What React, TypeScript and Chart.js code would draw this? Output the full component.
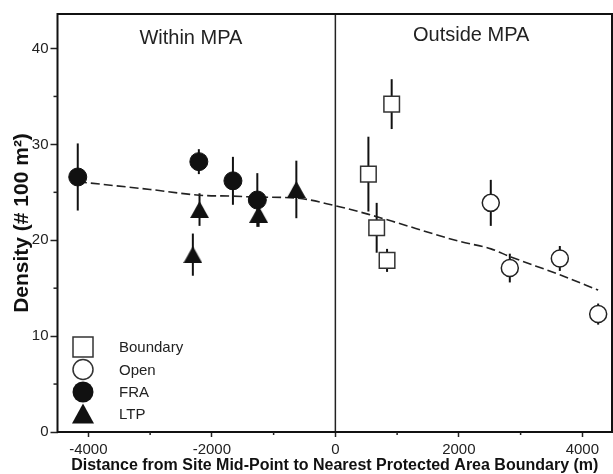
import { useEffect, useRef } from 'react';
import { Chart, registerables } from 'chart.js';

Chart.register(...registerables);

const FONT = '"Liberation Sans", Arial, sans-serif';

const xTicks = [-4000, -2000, 0, 2000, 4000];
const yTicks = [0, 10, 20, 30, 40];
const xMinorTicks = [-3000, -1000, 1000, 3000];
const yMinorTicks = [5, 15, 25, 35];

const boundaryX = [912, 535, 669, 837];
const boundaryY = [34.2, 26.9, 21.3, 17.9];
const boundaryErr = [2.6, 3.9, 2.6, 1.2];

const openX = [2517, 2825, 3635, 4256];
const openY = [23.9, 17.1, 18.1, 12.3];
const openErr = [2.4, 1.5, 1.3, 1.1];

const fraX = [-4172, -2211, -1659, -1264];
const fraY = [26.6, 28.2, 26.2, 24.2];
const fraErr = [3.5, 1.3, 2.5, 2.8];

const ltpX = [-2200, -2308, -1243, -632];
const ltpY = [23.2, 18.5, 22.7, 25.3];
const ltpErr = [1.7, 2.2, 1.3, 3.0];

const trendX = [-4170, -3000, -2200, -1660, -1250, -630, 0, 540, 910, 2000, 2520, 2825, 3635, 4256];
const trendY = [26.1, 25.3, 24.7, 24.6, 24.5, 24.4, 23.6, 22.7, 22.0, 19.9, 19.1, 18.3, 16.4, 14.8];

const legendLabels = ['Boundary', 'Open', 'FRA', 'LTP'];
const regionLabels = ['Within MPA', 'Outside MPA'];

const X_MIN = -4500;
const X_MAX = 4480;
const Y_MIN = 0;
const Y_MAX = 43.6;

const pts = (xs: number[], ys: number[]) => xs.map((x, i) => ({ x, y: ys[i] }));

function makeTriangle(w: number, h: number, color: string) {
  const c = document.createElement('canvas');
  c.width = w;
  c.height = h;
  const ctx = c.getContext('2d')!;
  ctx.fillStyle = color;
  ctx.beginPath();
  ctx.moveTo(w / 2, 0);
  ctx.lineTo(w, h);
  ctx.lineTo(0, h);
  ctx.closePath();
  ctx.fill();
  return c;
}

export default function App() {
  const ref = useRef<HTMLCanvasElement>(null);

  useEffect(() => {
    const canvas = ref.current!;
    const tri = makeTriangle(19, 17, '#111');
    const errs: Record<string, number[]> = {
      Boundary: boundaryErr,
      Open: openErr,
      FRA: fraErr,
      LTP: ltpErr,
    };

    const decor = {
      id: 'decor',
      beforeDatasetsDraw(chart: any) {
        const { ctx, scales } = chart;
        const xs = scales.x;
        const ys = scales.y;
        ctx.save();
        ctx.strokeStyle = '#111';
        ctx.lineWidth = 2;
        chart.data.datasets.forEach((ds: any) => {
          const e = errs[ds.label];
          if (!e) return;
          ds.data.forEach((p: any, i: number) => {
            const px = xs.getPixelForValue(p.x);
            ctx.beginPath();
            ctx.moveTo(px, ys.getPixelForValue(p.y + e[i]));
            ctx.lineTo(px, ys.getPixelForValue(p.y - e[i]));
            ctx.stroke();
          });
        });
        ctx.restore();
      },
      afterDraw(chart: any) {
        const { ctx, chartArea: a, scales } = chart;
        const xs = scales.x;
        const ys = scales.y;
        ctx.save();
        // frame
        ctx.strokeStyle = '#111';
        ctx.lineWidth = 2;
        ctx.strokeRect(a.left, a.top, a.right - a.left, a.bottom - a.top);
        // minor ticks
        ctx.lineWidth = 1.5;
        ctx.strokeStyle = '#222';
        yMinorTicks.forEach((v) => {
          const py = ys.getPixelForValue(v);
          ctx.beginPath();
          ctx.moveTo(a.left - 4, py);
          ctx.lineTo(a.left, py);
          ctx.stroke();
        });
        xMinorTicks.forEach((v) => {
          const px = xs.getPixelForValue(v);
          ctx.beginPath();
          ctx.moveTo(px, a.bottom);
          ctx.lineTo(px, a.bottom + 3);
          ctx.stroke();
        });
        // region labels
        ctx.fillStyle = '#222';
        ctx.font = `20px ${FONT}`;
        ctx.textAlign = 'center';
        ctx.textBaseline = 'middle';
        ctx.fillText(regionLabels[0], xs.getPixelForValue(-2340), a.top + 24);
        ctx.fillText(regionLabels[1], xs.getPixelForValue(2200), a.top + 21.5);
        // legend
        const mx = a.left + 25.5;
        const rows = [a.bottom - 85, a.bottom - 62.5, a.bottom - 40, a.bottom - 18.5];
        ctx.lineWidth = 1.5;
        ctx.strokeStyle = '#333';
        ctx.fillStyle = '#fff';
        ctx.fillRect(mx - 10, rows[0] - 10, 20, 20);
        ctx.strokeRect(mx - 10, rows[0] - 10, 20, 20);
        ctx.beginPath();
        ctx.arc(mx, rows[1], 10, 0, Math.PI * 2);
        ctx.fill();
        ctx.stroke();
        ctx.fillStyle = '#111';
        ctx.beginPath();
        ctx.arc(mx, rows[2], 10.5, 0, Math.PI * 2);
        ctx.fill();
        ctx.beginPath();
        ctx.moveTo(mx, rows[3] - 10);
        ctx.lineTo(mx + 11, rows[3] + 10);
        ctx.lineTo(mx - 11, rows[3] + 10);
        ctx.closePath();
        ctx.fill();
        ctx.fillStyle = '#222';
        ctx.font = `15px ${FONT}`;
        ctx.textAlign = 'left';
        legendLabels.forEach((t, i) => ctx.fillText(t, a.left + 61.5, rows[i] + 1));
        ctx.restore();
      },
    };

    const chart = new Chart(canvas, {
      type: 'scatter',
      data: {
        datasets: [
          {
            type: 'line',
            label: 'trend',
            data: pts(trendX, trendY),
            borderColor: '#222',
            borderWidth: 1.6,
            borderDash: [9, 4],
            pointRadius: 0,
            cubicInterpolationMode: 'monotone',
            fill: false,
            order: 3,
          },
          {
            type: 'line',
            label: 'zero',
            data: [
              { x: 0, y: Y_MIN },
              { x: 0, y: Y_MAX },
            ],
            borderColor: '#222',
            borderWidth: 1.5,
            pointRadius: 0,
            fill: false,
            order: 3,
          },
          {
            label: 'Boundary',
            data: pts(boundaryX, boundaryY),
            pointStyle: 'rect',
            pointRadius: 11,
            backgroundColor: '#fff',
            borderColor: '#333',
            borderWidth: 1.5,
            order: 1,
          },
          {
            label: 'Open',
            data: pts(openX, openY),
            pointStyle: 'circle',
            pointRadius: 8.5,
            backgroundColor: '#fff',
            borderColor: '#222',
            borderWidth: 1.5,
            order: 1,
          },
          {
            label: 'FRA',
            data: pts(fraX, fraY),
            pointStyle: 'circle',
            pointRadius: 9,
            backgroundColor: '#111',
            borderColor: '#111',
            borderWidth: 1,
            order: 1,
          },
          {
            label: 'LTP',
            data: pts(ltpX, ltpY),
            pointStyle: tri as any,
            pointRadius: 10,
            backgroundColor: '#111',
            borderColor: '#111',
            order: 1,
          },
        ],
      },
      options: {
        animation: false,
        responsive: true,
        maintainAspectRatio: false,
        layout: { autoPadding: false, padding: { top: 14, right: 1, left: 0, bottom: 0 } },
        plugins: { legend: { display: false }, tooltip: { enabled: false } },
        scales: {
          x: {
            type: 'linear',
            min: X_MIN,
            max: X_MAX,
            afterBuildTicks: (s: any) => {
              s.ticks = xTicks.map((v) => ({ value: v }));
            },
            afterFit: (s: any) => {
              s.height = 42;
              s.paddingLeft = 0;
              s.paddingRight = 0;
            },
            grid: { drawOnChartArea: false, drawTicks: true, tickLength: 5, tickColor: '#222', tickWidth: 1.5 },
            border: { display: false },
            ticks: {
              font: { family: FONT, size: 15 },
              color: '#222',
              padding: 4,
              maxRotation: 0,
              autoSkip: false,
              callback: (v: any) => String(v),
            },
            title: {
              display: true,
              text: 'Distance from Site Mid-Point to Nearest Protected Area Boundary (m)',
              font: { family: FONT, size: 16, weight: 'bold', lineHeight: 1 },
              color: '#111',
              padding: 0,
            },
          },
          y: {
            type: 'linear',
            min: Y_MIN,
            max: Y_MAX,
            afterBuildTicks: (s: any) => {
              s.ticks = yTicks.map((v) => ({ value: v }));
            },
            afterFit: (s: any) => {
              s.width = 57.5;
              s.paddingTop = 0;
              s.paddingBottom = 0;
            },
            grid: { drawOnChartArea: false, drawTicks: true, tickLength: 7, tickColor: '#222', tickWidth: 1.5 },
            border: { display: false },
            ticks: {
              font: { family: FONT, size: 15 },
              color: '#222',
              padding: 2,
              autoSkip: false,
              callback: (v: any) => String(v),
            },
            title: {
              display: true,
              text: 'Density (# 100 m²)',
              font: { family: FONT, size: 21, weight: 'bold', lineHeight: 1 },
              color: '#111',
              padding: { top: 12, bottom: 0 },
            },
          },
        },
      },
      plugins: [decor],
    } as any);
    return () => chart.destroy();
  }, []);

  return (
    <div style={{ position: 'fixed', left: 0, top: 0, width: 613, height: 474, background: '#fff' }}>
      <canvas ref={ref} />
    </div>
  );
}
